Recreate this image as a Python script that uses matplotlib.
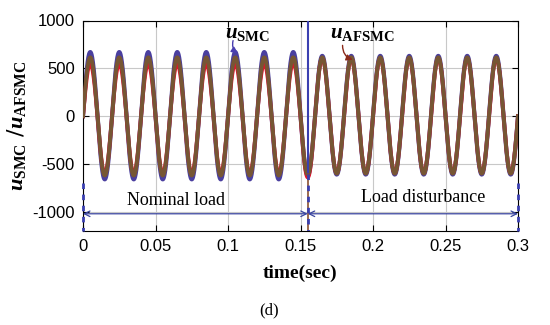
import numpy as np
import matplotlib
matplotlib.use("Agg")
import matplotlib.pyplot as plt

plt.rcParams['mathtext.fontset'] = 'custom'
plt.rcParams['mathtext.it'] = 'Liberation Serif:italic:bold'
plt.rcParams['mathtext.rm'] = 'Liberation Serif:bold'
plt.rcParams['mathtext.bf'] = 'Liberation Serif:bold'
plt.rcParams['axes.unicode_minus'] = False

# -------------------------------
# Data
# -------------------------------
freq_hz = 50
t_switch = 0.155          # load disturbance instant
t_end = 0.3

# extreme value of each half cycle (peak, trough, peak, ...), 0 .. 0.3 s
smc_extremes = [670, -660, 670, -660, 670, -660, 670, -660, 670, -660,
                670, -660, 670, -660, 670, -620, 630, -610, 630, -610,
                630, -610, 630, -610, 630, -610, 630, -610, 630, -610]
afsmc_extremes = [615, -620, 615, -620, 615, -620, 615, -620, 615, -620,
                  615, -620, 615, -620, 615, -610, 615, -600, 615, -600,
                  615, -600, 615, -600, 615, -600, 615, -600, 615, -600]
ref_extremes = [550, -600, 550, -600, 550, -600, 550, -600, 550, -600,
                550, -600, 550, -600, 560, -640, 605, -595, 605, -595,
                605, -595, 605, -595, 605, -595, 605, -595, 605, -595]

x_ticks = [0, 0.05, 0.1, 0.15, 0.2, 0.25, 0.3]
x_ticklabels = ["0", "0.05", "0.1", "0.15", "0.2", "0.25", "0.3"]
y_ticks = [-1000, -500, 0, 500, 1000]


def waveform(extremes, t):
    # sine shape, each half cycle scaled by its read-off extreme
    half = np.minimum((t * 2 * freq_hz).astype(int), len(extremes) - 1)
    amp = np.abs(np.array(extremes))[half]
    return amp * np.sin(2 * np.pi * freq_hz * t)


t = np.linspace(0, t_end, 3001)

fig = plt.figure(figsize=(5.5, 3.25), dpi=100)
ax = fig.add_axes([83 / 550, 1 - 231 / 325, 435 / 550, 210.5 / 325])

ax.plot(t, waveform(smc_extremes, t), color='#4a3f9f', lw=3.0, zorder=2)
ax.plot(t, waveform(ref_extremes, t), color='#e5122c', lw=2.8, zorder=3)
ax.plot(t, waveform(afsmc_extremes, t), color='#765634', lw=2.8, zorder=4)

# disturbance marker line
ax.plot([t_switch, t_switch], [1000, -600], color='#3a3fb0', lw=1.5, zorder=5)
ax.plot([t_switch, t_switch], [-600, -1200], color='#8a5030', lw=1.2, zorder=5)
ax.plot([t_switch, t_switch], [-600, -1200], color='#3a3fb0', lw=2, ls=(0, (2, 2)), zorder=6)
for xv in [0, t_end]:
    ax.plot([xv, xv], [-700, -1200], color='#3a3fb0', lw=2, ls=(0, (2, 2)), zorder=6, clip_on=False)

# region arrows
arrow_kw = dict(arrowstyle='<->', color='#3a45a0', lw=0.9, shrinkA=0, shrinkB=0)
ax.annotate('', xy=(0, -1020), xytext=(t_switch, -1020), arrowprops=arrow_kw)
ax.annotate('', xy=(t_switch, -1020), xytext=(t_end, -1020), arrowprops=arrow_kw)
ax.text(0.064, -880, 'Nominal load', family='Liberation Serif', fontsize=13,
        ha='center', va='center')
ax.text(0.2345, -850, 'Load disturbance', family='Liberation Serif', fontsize=13,
        ha='center', va='center')

# signal labels
ax.text(0.098, 870, r'$u_{\mathrm{SMC}}$', fontsize=15, ha='left', va='center', zorder=7)
ax.annotate('', xy=(0.1068, 660), xytext=(0.1035, 790),
            arrowprops=dict(arrowstyle='-|>', color='#4a3fb0', lw=1.0,
                            connectionstyle='arc3,rad=0.35', mutation_scale=9,
                            shrinkA=0, shrinkB=0), zorder=7)
ax.text(0.1705, 870, r'$u_{\mathrm{AFSMC}}$', fontsize=15, ha='left', va='center', zorder=7)
ax.annotate('', xy=(0.1860, 590), xytext=(0.1790, 740),
            arrowprops=dict(arrowstyle='-|>', color='#8b2a1a', lw=1.0,
                            connectionstyle='arc3,rad=0.35', mutation_scale=9,
                            shrinkA=0, shrinkB=0), zorder=7)

ax.set_xlim(0, t_end)
ax.set_ylim(-1200, 1000)
ax.set_xticks(x_ticks)
ax.set_xticklabels(x_ticklabels)
ax.set_yticks(y_ticks)
ax.tick_params(direction='in', top=True, right=True, labelsize=12, pad=6, length=4)
for lab in ax.get_xticklabels() + ax.get_yticklabels():
    lab.set_family('Liberation Sans')
ax.grid(True, color='#c8c8c8', lw=0.8)
ax.set_axisbelow(True)

ax.set_xlabel('time(sec)', family='Liberation Serif', fontweight='bold', fontsize=14)
ax.xaxis.set_label_coords((300 - 83) / 435, -(265 - 231) / 210.5)
ax.set_ylabel(r'$u_{\mathrm{SMC}}$ /$u_{\mathrm{AFSMC}}$', fontsize=16)
ax.yaxis.set_label_coords((28 - 83) / 435, 0.5)

fig.text(269 / 550, 1 - 310 / 325, '(d)', family='Liberation Serif', fontsize=12,
         ha='center', va='center')

fig.savefig('out.png', dpi=100)
